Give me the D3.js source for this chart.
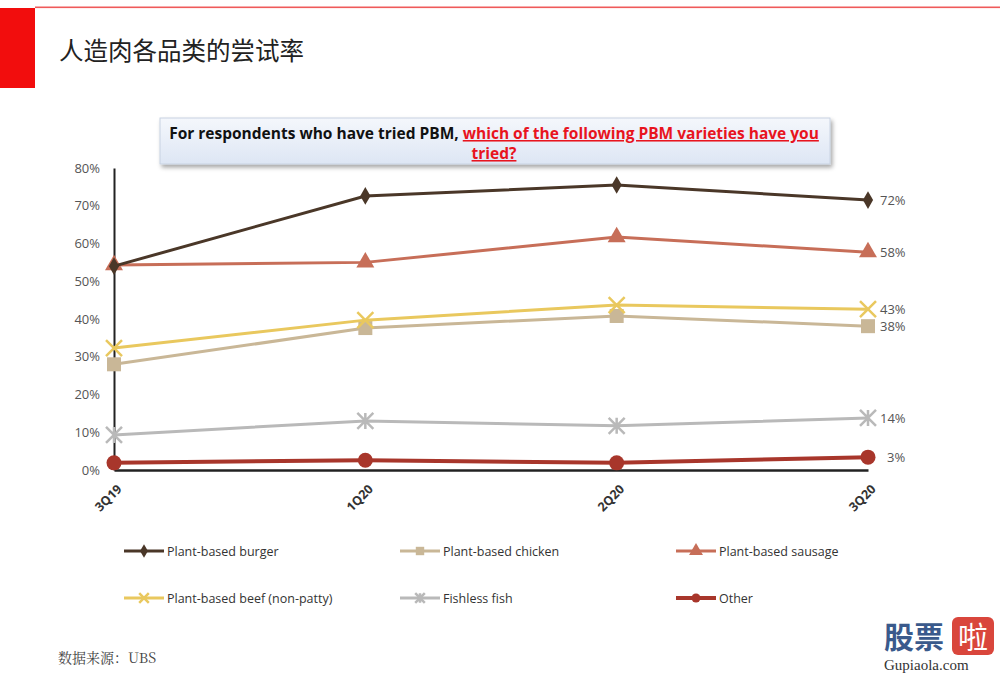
<!DOCTYPE html>
<html><head><meta charset="utf-8">
<script src="https://cdn.jsdelivr.net/npm/d3@7/dist/d3.min.js"></script>
<style>body{margin:0;background:#fff;}svg{display:block;}</style>
</head><body>
<svg id="c" width="1000" height="676"></svg>
<script>
const categories = ["3Q19","1Q20","2Q20","3Q20"];
const burger  = [54, 72.6, 75.5, 71.5];
const chicken = [28, 37.6, 40.8, 38.1];
const sausage = [54.3, 55, 61.7, 57.7];
const beef    = [32.3, 39.7, 43.7, 42.6];
const fish    = [9.3, 13, 11.7, 13.8];
const other   = [1.9, 2.6, 1.9, 3.4];
const endLabels = ["72%","38%","58%","43%","14%","3%"];
const seriesNames = ["Plant-based burger","Plant-based chicken","Plant-based sausage","Plant-based beef (non-patty)","Fishless fish","Other"];
const yTicks = [0,10,20,30,40,50,60,70,80];

const series = [
  {name:seriesNames[0], values:burger,  color:"#4a3728", sym:"diamond", w:3, label:endLabels[0]},
  {name:seriesNames[1], values:chicken, color:"#c9b797", sym:"square",  w:3, label:endLabels[1]},
  {name:seriesNames[2], values:sausage, color:"#c76e58", sym:"triangle",w:3, label:endLabels[2]},
  {name:seriesNames[3], values:beef,    color:"#e9c85e", sym:"x",       w:3, label:endLabels[3]},
  {name:seriesNames[4], values:fish,    color:"#b9b9b9", sym:"star",    w:3, label:endLabels[4]},
  {name:seriesNames[5], values:other,   color:"#a8362b", sym:"circle",  w:4, label:endLabels[5]}
];

const svg = d3.select("#c");
// header
svg.append("rect").attr("x",0).attr("y",8).attr("width",35).attr("height",80).attr("fill","#f20d0d");
svg.append("rect").attr("x",35).attr("y",6.5).attr("width",965).attr("height",1.6).attr("fill","#ef5a5a");
svg.append("text").attr("x",59).attr("y",60).attr("font-family","Noto Sans CJK SC").attr("font-size",24.5).attr("fill","#222").text("人造肉各品类的尝试率");

// title box
const defs = svg.append("defs");
const g1 = defs.append("linearGradient").attr("id","bg").attr("x1",0).attr("y1",0).attr("x2",0).attr("y2",1);
g1.append("stop").attr("offset","0").attr("stop-color","#f4f7fc");
g1.append("stop").attr("offset","1").attr("stop-color","#dde6f4");
const f = defs.append("filter").attr("id","sh").attr("x","-5%").attr("y","-20%").attr("width","110%").attr("height","160%");
f.append("feDropShadow").attr("dx",2).attr("dy",3).attr("stdDeviation",2).attr("flood-color","#000").attr("flood-opacity",0.35);
svg.append("rect").attr("x",160).attr("y",118).attr("width",670).attr("height",46).attr("fill","url(#bg)").attr("stroke","#c8d2e2").attr("filter","url(#sh)");
const tt = svg.append("text").attr("font-family","Open Sans, sans-serif").attr("font-weight","bold").attr("font-size",15.5).attr("text-anchor","middle");
const l1 = tt.append("tspan").attr("x",494).attr("y",139);
l1.append("tspan").attr("fill","#111").text("For respondents who have tried PBM, ");
l1.append("tspan").attr("fill","#e8141e").attr("text-decoration","underline").text("which of the following PBM varieties have you");
tt.append("tspan").attr("x",494).attr("y",159).attr("fill","#e8141e").attr("text-decoration","underline").text("tried?");

// scales
const x = d3.scalePoint().domain(categories).range([114,868]);
const y = d3.scaleLinear().domain([0,80]).range([470,168]);

const yAxis = svg.append("g").attr("transform","translate(114,0)")
  .call(d3.axisLeft(y).tickValues(yTicks).tickSize(0).tickPadding(14).tickFormat(d=>d+"%"));
yAxis.select(".domain").attr("stroke","#222").attr("stroke-width",2);
yAxis.selectAll("text").attr("font-family","Open Sans, sans-serif").attr("font-size",13).attr("fill","#555");

const xAxis = svg.append("g").attr("transform","translate(0,470)")
  .call(d3.axisBottom(x).tickSize(0).tickPadding(0));
xAxis.select(".domain").attr("stroke","#222").attr("stroke-width",2.5);
xAxis.selectAll("text").attr("font-family","Open Sans, sans-serif").attr("font-weight","bold").attr("font-size",12.5).attr("fill","#333")
  .attr("text-anchor","end").attr("dy",0).attr("transform","translate(8,20) rotate(-45)");

function drawSym(g, s, cx, cy, scale){
  scale = scale||1;
  const c = s.color;
  if(s.sym==="diamond") g.append("path").attr("d",d3.symbol(d3.symbolDiamond,90*scale)()).attr("transform",`translate(${cx},${cy})`).attr("fill",c);
  else if(s.sym==="square") g.append("rect").attr("x",cx-7*scale).attr("y",cy-7*scale).attr("width",14*scale).attr("height",14*scale).attr("fill",c);
  else if(s.sym==="triangle") g.append("path").attr("d",d3.symbol(d3.symbolTriangle,140*scale)()).attr("transform",`translate(${cx},${cy})`).attr("fill",c);
  else if(s.sym==="circle") g.append("circle").attr("cx",cx).attr("cy",cy).attr("r",7.5*scale).attr("fill",c);
  else if(s.sym==="x"){
    const r=8*scale;
    g.append("path").attr("d",`M${cx-r},${cy-r}L${cx+r},${cy+r}M${cx-r},${cy+r}L${cx+r},${cy-r}`).attr("stroke",c).attr("stroke-width",2.5);
  } else if(s.sym==="star"){
    const r=8*scale;
    g.append("path").attr("d",`M${cx-r},${cy-r}L${cx+r},${cy+r}M${cx-r},${cy+r}L${cx+r},${cy-r}M${cx},${cy-r}L${cx},${cy+r}`).attr("stroke",c).attr("stroke-width",2.5);
  }
}

const line = d3.line().x((d,i)=>x(categories[i])).y(d=>y(d));
const order = [4,1,3,2,0,5];
order.forEach(k=>{
  const s = series[k];
  const g = svg.append("g");
  g.append("path").attr("d",line(s.values)).attr("fill","none").attr("stroke",s.color).attr("stroke-width",s.w);
  s.values.forEach((v,i)=>drawSym(g,s,x(categories[i]),y(v)));
  svg.append("text").attr("x",x(categories[3])+ (s.sym==="circle"?19:12)).attr("y",y(s.values[3])+5)
    .attr("font-family","Open Sans, sans-serif").attr("font-size",13).attr("fill","#555").text(s.label);
});

// legend
const legCols = [124,400,676], legRows = [551,598];
series.forEach((s,i)=>{
  const lx = legCols[i%3], ly = legRows[Math.floor(i/3)];
  const g = svg.append("g");
  g.append("line").attr("x1",lx).attr("x2",lx+40).attr("y1",ly).attr("y2",ly).attr("stroke",s.color).attr("stroke-width",s.w);
  drawSym(g,s,lx+20,ly,0.6);
  svg.append("text").attr("x",lx+43).attr("y",ly+5).attr("font-family","Open Sans, sans-serif").attr("font-size",12.5).attr("fill","#333").text(s.name);
});

// source
svg.append("text").attr("x",58).attr("y",663).attr("font-family","Noto Serif CJK SC, Noto Sans CJK SC").attr("font-size",14).attr("fill","#444").text("数据来源：UBS");

// watermark
svg.append("text").attr("x",884).attr("y",648).attr("font-family","Noto Sans CJK SC").attr("font-weight","bold").attr("font-size",30).attr("fill","#3a5a8c").text("股票");
svg.append("rect").attr("x",952).attr("y",617).attr("width",42).attr("height",38).attr("rx",6).attr("fill","#d9463c");
svg.append("text").attr("x",973).attr("y",648).attr("text-anchor","middle").attr("font-family","Noto Sans CJK SC").attr("font-size",30).attr("fill","#fff").text("啦");
svg.append("text").attr("x",884).attr("y",670).attr("font-family","Liberation Serif").attr("font-size",15).attr("fill","#333").text("Gupiaola.com");
</script>
</body></html>
